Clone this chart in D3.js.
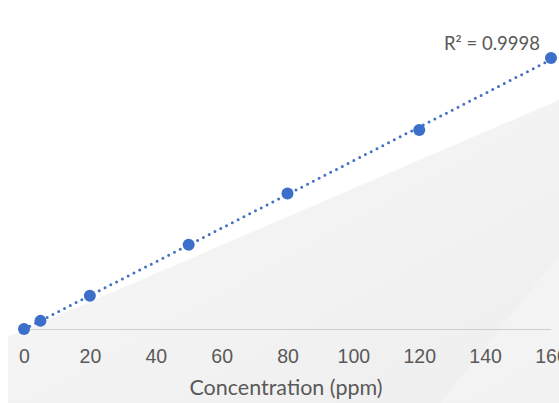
<!DOCTYPE html>
<html>
<head>
  <script src="https://d3js.org/d3.v7.min.js"></script>
  <style>
    body { margin: 0; background: #fff; }
    svg { font-family: Lato, "Open Sans", sans-serif; display: block; }
    .tick text { fill: #595959; font-size: 19.5px; }
    .label { fill: #595959; font-size: 21.5px; }
    .r2 { fill: #595959; font-size: 18.5px; }
  </style>
</head>
<body>
<div id="chart"></div>
<script>
// concentration (ppm) and measured signal
var conc = [0, 5, 20, 50, 80, 120, 160];
var signal = [0.0, 0.048, 0.196, 0.498, 0.8, 1.175, 1.6];
var xTicks = [0, 20, 40, 60, 80, 100, 120, 140, 160];
var rSquared = "R\u00b2 = 0.9998";
var xTitle = "Concentration (ppm)";

var width = 559;
var height = 403;

var x = d3.scaleLinear().domain([0, 160]).range([24, 551]);
var y = d3.scaleLinear().domain([0, 1.6]).range([329, 58]);

var svg = d3.select("#chart").append("svg")
  .attr("width", width)
  .attr("height", height);

/* background shading */
var defs = svg.append("defs");
var grad = defs.append("linearGradient")
  .attr("id", "bg")
  .attr("x1", "0%").attr("y1", "0%")
  .attr("x2", "100%").attr("y2", "100%");
grad.append("stop").attr("offset", "0%").attr("stop-color", "#f8f8f8");
grad.append("stop").attr("offset", "100%").attr("stop-color", "#eeeeee");

svg.append("path")
  .attr("d", "M8,337 L559,100 L559,403 L8,403 Z")
  .attr("fill", "url(#bg)");

svg.append("path")
  .attr("d", "M440,403 L559,255 L559,403 Z")
  .attr("fill", "#f5f5f5")
  .attr("opacity", 0.6);

/* x axis */
var xAxis = d3.axisBottom(x).tickValues(xTicks).tickSize(0).tickPadding(20);
var gx = svg.append("g")
  .attr("transform", "translate(0,329)")
  .call(xAxis);
gx.select(".domain").attr("stroke", "#d0d0d0").attr("stroke-width", 1.2)
  .attr("d", "M20,0.5H551");

svg.append("text")
  .attr("class", "label")
  .attr("x", 286)
  .attr("y", 395)
  .attr("text-anchor", "middle")
  .text(xTitle);

/* linear trendline fitted to the data */
var mx = d3.mean(conc), my = d3.mean(signal);
var sxy = d3.sum(conc, (c, i) => (c - mx) * (signal[i] - my));
var sxx = d3.sum(conc, c => (c - mx) * (c - mx));
var slope = sxy / sxx;
var icpt = my - slope * mx;
var fit = [0, 160].map(c => [c, icpt + slope * c]);

svg.append("path")
  .attr("d", d3.line().x(d => x(d[0])).y(d => y(d[1]))(fit))
  .attr("fill", "none")
  .attr("stroke", "#4472c4")
  .attr("stroke-width", 3)
  .attr("stroke-linecap", "round")
  .attr("stroke-dasharray", "0,6.5");

/* points */
svg.append("g").selectAll("circle")
  .data(conc).enter()
  .append("circle")
  .attr("cx", d => x(d))
  .attr("cy", (d, i) => y(signal[i]))
  .attr("r", 6)
  .attr("fill", "#3b6fca");

svg.append("text")
  .attr("class", "r2")
  .attr("x", 540)
  .attr("y", 50)
  .attr("text-anchor", "end")
  .text(rSquared);
</script>
</body>
</html>
